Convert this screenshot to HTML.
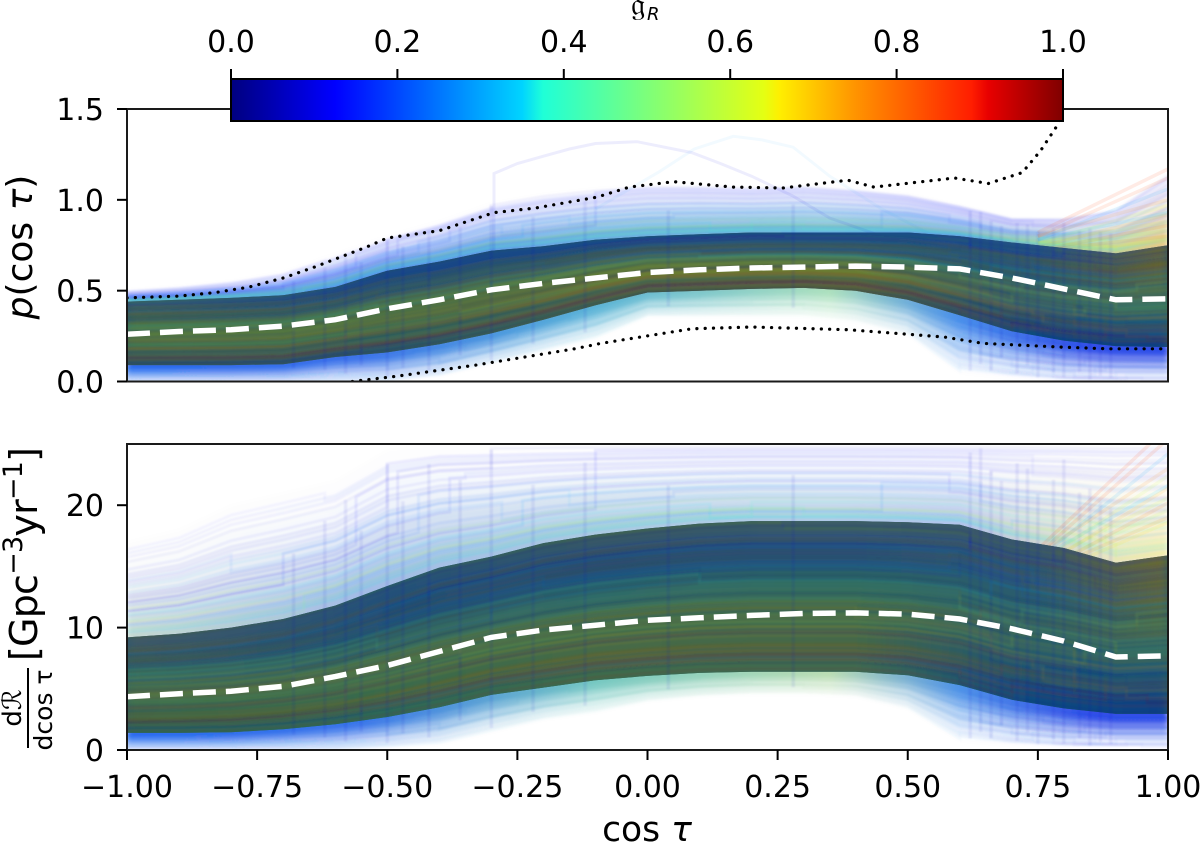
<!DOCTYPE html>
<html lang="en">
<head>
<meta charset="utf-8">
<title>Posterior of cos tau</title>
<style>
html,body{margin:0;padding:0;background:#fff;}
svg{display:block;}
text{font-family:"DejaVu Sans","Liberation Sans",sans-serif;fill:#000;}
</style>
</head>
<body>
<svg id="chart" xmlns="http://www.w3.org/2000/svg" width="1200" height="843" viewBox="0 0 1200 843">
  <defs>
    <clipPath id="clip-top"><rect x="127" y="109" width="1041" height="272.5"/></clipPath>
    <clipPath id="clip-bot"><rect x="127" y="444" width="1041" height="306"/></clipPath>
    <filter id="soft" x="-5%" y="-20%" width="110%" height="140%"><feGaussianBlur stdDeviation="5 7"/></filter>
    <filter id="soft-fade" x="-5%" y="-20%" width="110%" height="140%"><feGaussianBlur stdDeviation="3 2"/></filter>
    <filter id="soft-lines" x="-5%" y="-20%" width="110%" height="140%"><feGaussianBlur stdDeviation="0.9"/></filter>
  </defs>
  <rect x="0" y="0" width="1200" height="843" fill="#fff"/>
  <g id="panel-top"></g>
  <g id="panel-bot"></g>
  <g id="colorbar"></g>
  <text transform="translate(32,247) rotate(-90)" text-anchor="middle" font-size="36"><tspan font-style="italic">p</tspan>(cos <tspan font-style="italic">τ</tspan>)</text>
  <text x="647" y="841" text-anchor="middle" font-size="34.5">cos <tspan font-style="italic">τ</tspan></text>
  <g>
    <text transform="translate(37,661) rotate(-90)" font-size="38" textLength="214" lengthAdjust="spacing">[Gpc<tspan dy="-15" font-size="27">−3</tspan><tspan dy="15">yr</tspan><tspan dy="-15" font-size="27">−1</tspan><tspan dy="15">]</tspan></text>
    <text transform="translate(21,708) rotate(-90)" text-anchor="middle" font-size="26">dℛ</text>
    <text transform="translate(52,710) rotate(-90)" text-anchor="middle" font-size="25">dcos τ</text>
    <rect x="27" y="668" width="2" height="80" fill="#000"/>
  </g>
  <text x="631" y="15" font-size="32">𝔤</text>
  <text x="647" y="20" font-size="18" font-style="italic">R</text>
</svg>
<script>
// ---- shared knots ----
const knotX = [-1,-.9,-.8,-.7,-.6,-.5,-.4,-.3,-.2,-.1,0,.1,.2,.3,.4,.5,.6,.7,.8,.9,1];

// ---- top panel series ----
const topMedian = [.26,.275,.285,.305,.34,.40,.45,.505,.54,.57,.60,.615,.625,.63,.635,.63,.62,.57,.51,.45,.455];
const topUpper = [.44,.45,.46,.475,.52,.61,.66,.72,.745,.78,.80,.81,.82,.82,.82,.82,.80,.765,.735,.705,.75];
const topLower = [.09,.09,.09,.095,.135,.16,.205,.265,.34,.42,.49,.50,.51,.515,.50,.45,.365,.277,.225,.195,.19];
const topOuterUpper = [.50,.52,.55,.60,.70,.80,.88,.98,1.03,1.06,1.08,1.08,1.07,1.08,1.06,1.03,.97,.90,.90,.95,1.15];
const topOuterLower = [0,0,0,0,0,0,.03,.1,.17,.24,.36,.36,.36,.36,.33,.26,.05,.02,0,0,0];
const topDottedUpperX = [-1,-.9,-.83,-.765,-.7,-.64,-.54,-.5,-.4,-.295,-.215,-.097,-.035,.05,.165,.26,.385,.435,.59,.655,.72,.755,.785,.8];
const topDottedUpperV = [.46,.47,.49,.52,.57,.63,.74,.79,.83,.93,.955,1.015,1.07,1.10,1.07,1.065,1.108,1.07,1.12,1.09,1.15,1.27,1.40,1.5];
const topDottedLowerX = [-.567,-.48,-.33,-.14,-.09,.085,.2,.385,.57,.645,.79,.885,1];
const topDottedLowerV = [0,.03,.09,.18,.21,.29,.30,.285,.245,.21,.19,.18,.18];
const outlierOneX = [-.295,-.295,-.25,-.2,-.15,-.1,-.02,.085,.14,.2,.28,.35,.5,.62];
const outlierOneV = [.6,1.145,1.2,1.24,1.28,1.31,1.32,1.26,1.2,1.13,1.02,.9,.75,.7];
const outlierTwoX = [-.1,.02,.09,.165,.22,.28,.35,.45,.55];
const outlierTwoV = [.95,1.15,1.28,1.35,1.33,1.29,1.13,.95,.8];
const fanStartV = [.82,.8,.78,.8,.76,.78,.74,.76,.72,.74,.72,.7];
const fanEndV = [1.17,1.12,1.06,1.0,.97,.93,.92,.88,.86,.83,.8,.78];
const fanG = [.86,.84,.3,.78,.6,.34,.72,.62,.8,.55,.76,.66];

// ---- bottom panel series ----
const botMedian = [4.35,4.6,4.8,5.2,6.0,6.9,8.05,9.2,9.8,10.2,10.6,10.8,11,11.15,11.2,11.1,10.7,9.9,8.9,7.6,7.7];
const botUpper = [9.2,9.5,10,10.7,11.8,13.4,14.9,15.8,16.9,17.6,18.1,18.5,18.7,18.7,18.7,18.6,18.4,17.2,16.5,15.3,15.9];
const botLower = [1.4,1.4,1.45,1.7,2.1,2.7,3.5,4.5,5.1,5.7,6.05,6.3,6.4,6.4,6.4,6.1,5.3,4.1,3.4,2.95,2.95];
const botOuterUpper = [17,18,20,21,22,24.5,25,25,25,25,25,25,25,25,25,25,25,25,25,25,25];
const botOuterLower = [0,0,0,0,0,.2,.5,1.5,2.5,3.1,4,4.4,4.6,4.6,4.4,3.4,.8,.4,.2,.2,.2];

// ---- individual posterior draws, as a position within the band (0..1), above it (1..2) or below it (0..-1) ----
const drawRankStart = [1.92,1.71,1.84,1.36,1.58,1.12,1.47,1.27,1.66,1.05,1.33,1.79,1.18,1.52,1.41,1.63,1.09,1.24,1.88,1.02,1.14,1.3,1.44,1.07,1.22,1.55,1.37,1.16,1.6,1.28,
 .05,.93,.14,.82,.27,.68,.38,.55,.47,.61,.73,.2,.88,.11,.97,.33,.42,.77,.58,.24,.08,.66,.52,.3,.85,.17,.71,.44,.91,.36,.62,.02,.79,.49,.26,.95,.56,.12,.83,.4,
 -.05,-.12,-.22,-.3,-.38,-.46,-.55,-.62,-.7,-.78,-.85,-.93,-.08,-.17,-.26,-.34,-.42,-.5,-.58,-.66,-.74,-.82,-.9,-.97,-.14,-.28,-.44,-.6,-.76,-.88];
const drawRankEnd = [1.86,1.75,1.6,1.42,1.9,1.2,1.31,1.52,1.7,1.1,1.62,1.96,1.08,1.35,1.78,1.4,1.3,1.06,1.68,1.15,1.5,1.12,1.72,1.25,1.46,1.34,1.83,1.03,1.45,1.93,
 .1,.88,.2,.9,.22,.75,.3,.62,.4,.7,.66,.3,.8,.05,.92,.42,.5,.7,.65,.15,.16,.6,.45,.38,.94,.1,.78,.36,.98,.28,.54,.09,.86,.57,.18,.99,.48,.07,.75,.34,
 -.1,-.2,-.15,-.42,-.3,-.6,-.4,-.75,-.55,-.9,-.65,-.8,-.18,-.1,-.38,-.2,-.56,-.36,-.72,-.48,-.9,-.6,-.98,-.85,-.25,-.12,-.6,-.45,-.92,-.7];
const drawStepX = [-.62,-.35,.62,.05,-.5,.7,-.28,-.7,.66,.78,-.44,-.3,.3,-.15,-.56,.58,.85,.12,.74,-.66,.45,.88,-.38,.2,-.24,.64,-.48,.9,-.8,-.1,
 -.55,.62,.68,-.42,.74,.6,.82,-.3,.9,.66,.72,-.58,.86,.6,.78,.7,.64,-.2,.94,.76,.88,.1,-.68,.84,.62,.92,.58,.4,.8,.66,-.52,.7,.9,.72,.82,.26,.6,.96,.74,-.36,
 .62,.68,.72,.76,.8,.64,.84,.7,.88,.66,.74,.92,-.58,-.45,-.35,-.25,-.5,.2,.3,.62,.78,.86,.95,.6,-.15,.1,-.4,.68,.82,.9];
const drawG = [.12,.1,.18,.2,.14,.3,.26,.16,.11,.38,.22,.09,.42,.3,.13,.15,.46,.36,.12,.5,.24,.55,.17,.4,.28,.19,.1,.6,.21,.15,
 .1,.12,.85,.2,.75,.15,.68,.25,.62,.35,.18,.8,.14,.9,.12,.58,.7,.3,.55,.72,.88,.4,.52,.6,.16,.78,.22,.65,.11,.74,.45,.95,.19,.5,.82,.13,.56,.92,.24,.66,
 .12,.1,.14,.16,.11,.13,.1,.12,.09,.11,.15,.1,.35,.48,.42,.55,.3,.68,.6,.14,.12,.1,.11,.13,.5,.72,.25,.17,.1,.12];

// ---- sharp histogram-bin edges seen in the draws: where, and how far they reach in rank ----
const edgeX = [-.68,-.62,-.58,-.55,-.5,-.47,-.42,-.36,-.3,-.22,-.12,.04,.28,.62,.64,.66,.68,.71,.73,.75,.78,.8,.83,.85,.87,.89];
const edgeRankTop = [1.5,1.7,1.8,1.5,1.9,1.6,1.85,1.7,1.95,1.6,1.8,1.5,1.6,1.9,1.95,1.7,1.6,1.8,1.75,1.5,1.65,1.85,1.55,1.6,1.5,1.45];
const edgeRankBottom = [-.3,-.5,-.7,-.4,-.85,-.6,-.8,-.5,-.9,-.7,-.75,-.6,-.7,-.95,-.8,-.9,-.6,-.9,-.7,-.95,-.8,-.9,-.75,-.95,-.85,-.9];

// ---- axis ticks ----
const xTicks = [-1,-.75,-.5,-.25,0,.25,.5,.75,1];
const xTickLabels = ["−1.00","−0.75","−0.50","−0.25","0.00","0.25","0.50","0.75","1.00"];
const topYTicks = [0,.5,1,1.5];
const topYTickLabels = ["0.0","0.5","1.0","1.5"];
const botYTicks = [0,10,20];
const botYTickLabels = ["0","10","20"];
const cbarTicks = [0,.2,.4,.6,.8,1];
const cbarTickLabels = ["0.0","0.2","0.4","0.6","0.8","1.0"];

// ---- jet colormap ----
const jetPos = [0,.11,.125,.35,.375,.5,.64,.66,.75,.89,.91,1];
const jetCol = ["#00007f","#0000f1","#0000ff","#00d4ff","#1fffd7","#7dff7a","#e4ff13","#ffee00","#ff9400","#ff1e00","#e80000","#7f0000"];

// ---- band shading colours, row = position in band, column = position along x ----
const shadeStopX = [-1,-.5,-.1,.4,.75,1];
const shadeRanks = [0,.2,.4,.6,.8,1];
const topShade = [
 ["#205a68","#20566c","#3a6a50","#4a6a44","#0e4a80","#0c3f84"],
 ["#2c6658","#2e6458","#3e6650","#4e6a40","#1a5078","#145280"],
 ["#3e6a4e","#3e6848","#4e6840","#4a6844","#2a5a6e","#2c6a68"],
 ["#4a6a40","#4a6a40","#4e6a40","#3c6656","#2f5c66","#4f6a48"],
 ["#44683e","#24566a","#245a68","#215a70","#2a5a6a","#66682f"],
 ["#3b6e62","#1c4f78","#1c5278","#1b5678","#25587a","#6a6a30"]];
const botShade = [
 ["#2a6a50","#2c6858","#3e6a4c","#406a50","#0e4a80","#0c4084"],
 ["#30664f","#3a6a4c","#466a46","#44684a","#1c5274","#14507c"],
 ["#3c6650","#3c6a50","#3c6a50","#3c6a50","#2c5e66","#2a6468"],
 ["#34645a","#2a5a62","#28606a","#2a6462","#2a5c6c","#4c6a48"],
 ["#3a5e56","#1f5074","#204e74","#22507a","#2c5872","#60683a"],
 ["#4a6652","#2a5a6a","#3c6056","#40645a","#3a5a62","#6a6a32"]];
const fadeStopX = [-1,-.55,-.1,.35,.6,.85,1];
const topFadeUp = ["#2f5fe0","#1f5ce8","#3f8cd4","#4a9ccc","#3c78d8","#a8c078","#e8b060"];
const topFadeDown = ["#0a54ec","#1a5ce6","#40a8d0","#a0dcb4","#2a7ce8","#1030e4","#1030e4"];
const botFadeUp = ["#9fb0b8","#4f80d0","#5f98c8","#6fa0d0","#6f90d8","#c8c890","#f0d878"];
const botFadeDown = ["#0a54ec","#1a60e6","#60c0b8","#b0d8a8","#3080e4","#1030e4","#1030e4"];

const NS = "http://www.w3.org/2000/svg";
const svg = document.getElementById("chart");
const defs = svg.querySelector("defs");
const xLeft = 127, xRight = 1168;
function xScale(x){ return xLeft + (x + 1) / 2 * (xRight - xLeft); }
function topScale(v){ return 381.5 - v / 1.5 * 272.5; }
function botScale(v){ return 750 - v / 25 * 306; }
function make(tag, attrs, parent){
  const el = document.createElementNS(NS, tag);
  for (const k in attrs) el.setAttribute(k, attrs[k]);
  if (parent) parent.appendChild(el);
  return el;
}
function jetColor(g){
  let i = 0;
  while (i < jetPos.length - 2 && g > jetPos[i + 1]) i++;
  const t = Math.max(0, Math.min(1, (g - jetPos[i]) / (jetPos[i + 1] - jetPos[i])));
  const a = parseInt(jetCol[i].slice(1), 16), b = parseInt(jetCol[i + 1].slice(1), 16);
  const mix = s => Math.round(((a >> s) & 255) * (1 - t) + ((b >> s) & 255) * t);
  return "rgb(" + mix(16) + "," + mix(8) + "," + mix(0) + ")";
}
function interp(xs, vs, x){
  let i = 0;
  while (i < xs.length - 2 && x > xs[i + 1]) i++;
  return vs[i] + (vs[i + 1] - vs[i]) * (x - xs[i]) / (xs[i + 1] - xs[i]);
}
function rankValue(p, r, x){
  const hi = interp(knotX, p.upper, x), lo = interp(knotX, p.lower, x);
  if (r >= 1) return hi + (interp(knotX, p.outerUpper, x) - hi) * (r - 1);
  if (r >= 0) return lo + (hi - lo) * r;
  return lo + (lo - interp(knotX, p.outerLower, x)) * r;
}
function linePath(xs, vs, yScale){
  return xs.map((x, i) => (i ? "L" : "M") + xScale(x).toFixed(1) + " " + yScale(vs[i]).toFixed(1)).join("");
}
function rankBandPath(p, r1, r2){
  const a = knotX.map(x => xScale(x).toFixed(1) + " " + p.y(rankValue(p, r1, x)).toFixed(1));
  const b = knotX.slice().reverse().map(x => xScale(x).toFixed(1) + " " + p.y(rankValue(p, r2, x)).toFixed(1));
  return "M" + a.join("L") + "L" + b.join("L") + "Z";
}
function gradient(id, stopXs, cols){
  const g = make("linearGradient", {id: id, gradientUnits: "userSpaceOnUse", x1: xLeft, x2: xRight, y1: 0, y2: 0}, defs);
  stopXs.forEach((x, i) => make("stop", {offset: (x + 1) / 2, "stop-color": cols[i]}, g));
}
function drawPath(p, i){
  const r1 = drawRankStart[i], r2 = drawRankEnd[i], s = drawStepX[i];
  let d = "", started = false;
  const add = (x, r) => { d += (started ? "L" : "M") + xScale(x).toFixed(1) + " " + p.y(rankValue(p, r, x)).toFixed(1); started = true; };
  let stepped = false;
  knotX.forEach(x => {
    if (!stepped && x >= s) { add(s, r1); add(s, r2); stepped = true; }
    add(x, x < s ? r1 : r2);
  });
  return d;
}
function drawPanel(p){
  const root = document.getElementById(p.rootId);
  const clip = make("g", {"clip-path": "url(#" + p.clipId + ")"}, root);
  
  

  gradient(p.key + "-fade-up", fadeStopX, p.fadeUp);
  gradient(p.key + "-fade-down", fadeStopX, p.fadeDown);
  const fades = make("g", {filter: "url(#soft-fade)"}, clip);
  
  
  for (let k = 1; k <= 9; k++) {
    const falloff = Math.pow(1 - k / 10, 1.5);
    const up = make("path", {d: rankBandPath(p, .9, 1 + k / 9), fill: "url(#" + p.key + "-fade-up)", opacity: p.upAlpha * falloff}, fades);
    
    
    const down = make("path", {d: rankBandPath(p, .1, -k / 9), fill: "url(#" + p.key + "-fade-down)", opacity: p.downAlpha * falloff}, fades);
    
    
  }

  const lines = make("g", {fill: "none", "stroke-width": 3, filter: "url(#soft-lines)"}, clip);
  
  
  drawRankStart.forEach((r, i) => {
    const far = r > 1 ? r - 1 : (r < 0 ? -r : 0);
    const stroke = r < 0 ? "url(#" + p.key + "-fade-down)" : jetColor(drawG[i]);
    const l = make("path", {d: drawPath(p, i), stroke: stroke, "stroke-opacity": (.1 - .07 * far).toFixed(3)}, lines);
    
    
  });
  if (p.key === "top") {
    const o1 = make("path", {d: linePath(outlierOneX, outlierOneV, p.y), stroke: jetColor(.1), "stroke-opacity": .07, "stroke-width": 3, fill: "none"}, clip);
    
    
    const o2 = make("path", {d: linePath(outlierTwoX, outlierTwoV, p.y), stroke: jetColor(.3), "stroke-opacity": .05, "stroke-width": 3, fill: "none"}, clip);
    
    
  }
  fanEndV.forEach((v, i) => {
    const scale = p.key === "top" ? 1 : 20;
    const f = make("path", {d: linePath([.75, 1], [fanStartV[i] * scale, v * scale + (p.key === "top" ? 0 : 3)], p.y), stroke: jetColor(fanG[i]), "stroke-opacity": .1, "stroke-width": 3.5, fill: "none"}, clip);
    
    
  });

  // central band with layered shading
  const bandClip = make("clipPath", {id: p.key + "-band-clip"}, defs);
  make("path", {d: rankBandPath(p, 0, 1)}, bandClip);
  const bandWrap = make("g", {"clip-path": "url(#" + p.key + "-band-clip)"}, clip);
  
  
  const base = make("path", {d: rankBandPath(p, -.1, 1.1), fill: p.baseFill}, bandWrap);
  
  
  const soft = make("g", {filter: "url(#soft)"}, bandWrap);
  
  
  shadeRanks.forEach((r, i) => {
    const id = p.key + "-shade-" + i;
    gradient(id, shadeStopX, p.shade[i]);
    const lo = i === 0 ? -.3 : r - .1, hi = i === shadeRanks.length - 1 ? 1.3 : r + .1;
    const s = make("path", {d: rankBandPath(p, lo, hi), fill: "url(#" + id + ")"}, soft);
    
    
  });
  const inner = make("g", {fill: "none", "stroke-width": 3, "stroke-opacity": .07, filter: "url(#soft-lines)"}, bandWrap);
  
  
  drawRankStart.forEach((r, i) => {
    if (r > 1 || r < 0) return;
    const l = make("path", {d: drawPath(p, i), stroke: jetColor(drawG[i])}, inner);
    
    
    const l2 = make("path", {d: drawPath(p, i), stroke: i % 2 ? "#08306e" : "#7a5a10", transform: "translate(0," + (i % 5 - 2) * 6 + ")"}, inner);
    
    
  });

  const edges = make("g", {fill: "none", stroke: "#1430c8", "stroke-width": 3.5, "stroke-opacity": .07, filter: "url(#soft-lines)"}, clip);
  
  
  edgeX.forEach((x, i) => {
    const e = make("path", {d: "M" + xScale(x).toFixed(1) + " " + p.y(rankValue(p, edgeRankTop[i], x)).toFixed(1) + "L" + (xScale(x) + .01).toFixed(2) + " " + p.y(rankValue(p, edgeRankBottom[i], x)).toFixed(1)}, edges);
    
    
  });

  if (p.dotted) {
    p.dotted.forEach(dd => {
      const o = make("path", {d: linePath(dd[0], dd[1], p.y), fill: "none", stroke: "#000", "stroke-width": 3.2, "stroke-dasharray": "0.1 8.2", "stroke-linecap": "round"}, clip);
      
      
    });
  }
  const med = make("path", {d: linePath(knotX, p.median, p.y), fill: "none", stroke: "#fff", "stroke-width": 5.5, "stroke-dasharray": "23 10"}, clip);
  
  

  // axes frame
  const frame = make("rect", {x: xLeft, y: p.top, width: xRight - xLeft, height: p.bottom - p.top, fill: "none", stroke: "#1a1a1a", "stroke-width": 2}, root);
  
  
  if (p.xLabels) {
    xTicks.forEach((t, i) => {
      const tick = make("line", {x1: xScale(t), x2: xScale(t), y1: p.bottom, y2: p.bottom + 10, stroke: "#000", "stroke-width": 2}, root);
      
      
      const lab = make("text", {x: xScale(t), y: 797, "text-anchor": "middle", "font-size": 30}, root);
      lab.textContent = xTickLabels[i];
      
      
    });
  }
  p.yTicks.forEach((t, i) => {
    const tick = make("line", {x1: xLeft - 10, x2: xLeft, y1: p.y(t), y2: p.y(t), stroke: "#000", "stroke-width": 2}, root);
    
    
    const lab = make("text", {x: 104, y: p.y(t) + 11, "text-anchor": "end", "font-size": 30}, root);
    lab.textContent = p.yLabels[i];
    
    
  });
}

drawPanel({key: "top", rootId: "panel-top", clipId: "clip-top", y: topScale, top: 109, bottom: 381.5,
  median: topMedian, upper: topUpper, lower: topLower, outerUpper: topOuterUpper, outerLower: topOuterLower,
  fadeUp: topFadeUp, fadeDown: topFadeDown, upAlpha: .34, downAlpha: .46, shade: topShade, baseFill: "#2a5f62",
  dotted: [[topDottedUpperX, topDottedUpperV], [topDottedLowerX, topDottedLowerV]],
  yTicks: topYTicks, yLabels: topYTickLabels, xLabels: false});
drawPanel({key: "bot", rootId: "panel-bot", clipId: "clip-bot", y: botScale, top: 444, bottom: 750,
  median: botMedian, upper: botUpper, lower: botLower, outerUpper: botOuterUpper, outerLower: botOuterLower,
  fadeUp: botFadeUp, fadeDown: botFadeDown, upAlpha: .2, downAlpha: .46, shade: botShade, baseFill: "#2a5f62",
  dotted: null, yTicks: botYTicks, yLabels: botYTickLabels, xLabels: true});

// colorbar
const cbLeft = 231, cbRight = 1063, cbTop = 79, cbBottom = 121;
const jetGrad = make("linearGradient", {id: "jet-grad", x1: 0, x2: 1, y1: 0, y2: 0}, defs);
jetPos.forEach((g, i) => make("stop", {offset: g, "stop-color": jetCol[i]}, jetGrad));
const cb = document.getElementById("colorbar");
const cbRect = make("rect", {x: cbLeft, y: cbTop, width: cbRight - cbLeft, height: cbBottom - cbTop, fill: "url(#jet-grad)", stroke: "#000", "stroke-width": 2}, cb);


cbarTicks.forEach((t, i) => {
  const x = cbLeft + t * (cbRight - cbLeft);
  const tick = make("line", {x1: x, x2: x, y1: cbTop - 10, y2: cbTop, stroke: "#000", "stroke-width": 2}, cb);
  
  
  const lab = make("text", {x: x, y: 52, "text-anchor": "middle", "font-size": 30}, cb);
  lab.textContent = cbarTickLabels[i];
  
  
});
</script>
</body>
</html>
